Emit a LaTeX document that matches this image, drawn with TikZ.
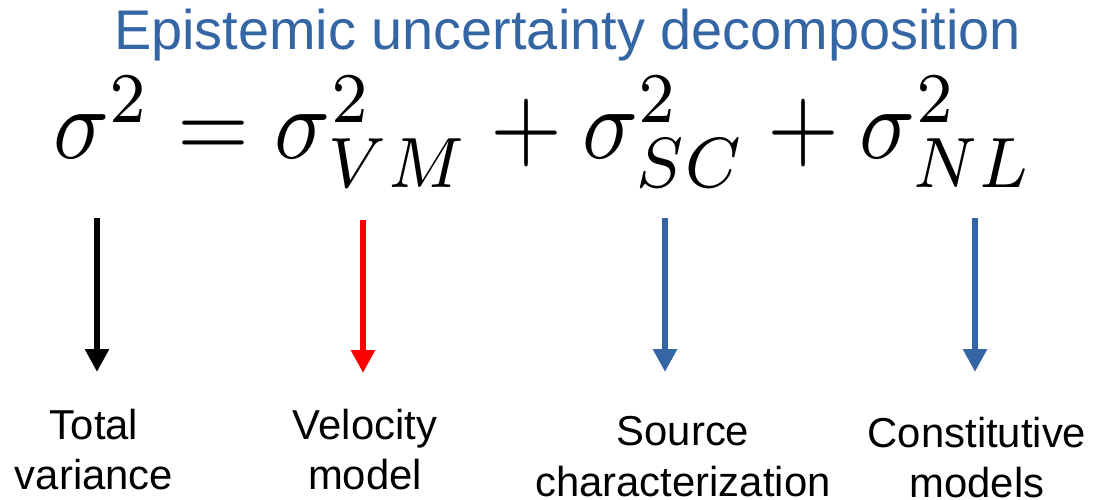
\documentclass[tikz,border=0pt]{standalone}
\usepackage{amsmath}
\usepackage{fontspec}
\setmainfont{Liberation Sans}
\usepackage{tikz}
\usetikzlibrary{arrows.meta}
\definecolor{titleblue}{HTML}{3465A4}
\definecolor{vmred}{HTML}{FF0000}

\begin{document}
\begin{tikzpicture}[
  arr/.style={line width=1.85pt,-{Triangle[width=0.23cm,length=0.23cm]}},
  lbl/.style={align=center,inner sep=0pt,anchor=north,
    font=\fontsize{11.9}{14.3}\selectfont}]
  \useasboundingbox (0,0) rectangle (11.03,4.99);
  % ---------- title ----------
  \node[text=titleblue,inner sep=0pt,anchor=base,
    font=\fontsize{15.9}{19}\selectfont] (title) at (5.675,4.49)
    {Epistemic uncertainty decomposition};
  % ---------- equation ----------
  \node[inner sep=0pt,anchor=base west] (eq) at (0.53,3.40)
    {\scalebox{1}[1.1]{\resizebox{9.8cm}{!}{$\sigma^2=\sigma^2_{VM}+\sigma^2_{SC}+\sigma^2_{NL}$}}};
  % ---------- labels ----------
  \node[lbl] (tot) at (0.94,0.91) {Total\\variance};
  \node[lbl] (vm) at (3.65,0.91) {Velocity\\model};
  \node[lbl] (sc) at (6.83,0.83) {Source\\characterization};
  \node[lbl] (nl) at (9.77,0.83) {Constitutive\\models};
  % ---------- arrows ----------
  \coordinate (totA) at (0.97,2.81);
  \coordinate (totB) at (0.97,1.27);
  \coordinate (vmA) at (3.63,2.79);
  \coordinate (vmB) at (3.63,1.26);
  \coordinate (scA) at (6.65,2.81);
  \coordinate (scB) at (6.65,1.27);
  \coordinate (nlA) at (9.75,2.81);
  \coordinate (nlB) at (9.75,1.27);
  \draw[arr] (totA) -- (totB);
  \draw[arr,vmred] (vmA) -- (vmB);
  \draw[arr,titleblue] (scA) -- (scB);
  \draw[arr,titleblue] (nlA) -- (nlB);
\end{tikzpicture}
\end{document}
